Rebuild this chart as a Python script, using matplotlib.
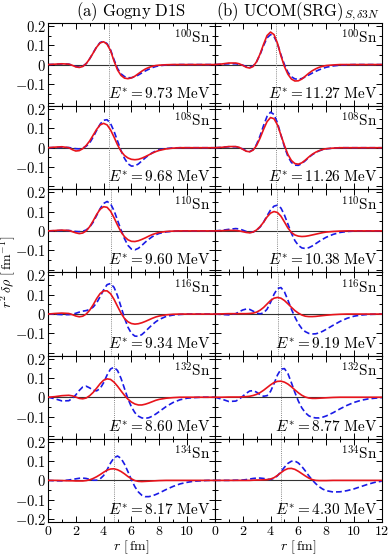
import matplotlib
matplotlib.use("Agg")
import matplotlib.pyplot as plt
from matplotlib.ticker import MultipleLocator

plt.rcParams['mathtext.fontset'] = 'cm'
plt.rcParams['font.family'] = ['DejaVu Serif']

# radial grid (fm)
r = [0, 0.5, 1.0, 1.5, 1.75, 2.0, 2.25, 2.5, 2.75, 3.0, 3.25, 3.5, 3.75, 4.0, 4.25, 4.5,
     4.75, 5.0, 5.25, 5.5, 5.75, 6.0, 6.25, 6.5, 6.75, 7.0, 7.25, 7.5, 7.75, 8.0,
     8.5, 9.0, 9.5, 10.0, 10.5, 11.0, 11.5, 12.0]

isotopes = ['100', '108', '110', '116', '132', '134']
estar_d1s = ['9.73', '9.68', '9.60', '9.34', '8.60', '8.17']
estar_ucom = ['11.27', '11.26', '10.38', '9.19', '8.77', '4.30']
radius_line = [4.39, 4.42, 4.50, 4.55, 4.75, 4.78]

# Gogny D1S: red (solid) and blue (dashed)
d1s_red_100 = [0, 0.002, 0.004, 0.002, -0.004, -0.012, -0.015, -0.010, 0.005, 0.030, 0.060, 0.090, 0.112, 0.118, 0.105, 0.072, 0.018, -0.028, -0.056, -0.070, -0.073, -0.069, -0.060, -0.047, -0.034, -0.023, -0.015, -0.009, -0.005, -0.003, -0.001, 0, 0, 0, 0, 0, 0, 0]
d1s_blue_100 = [0, 0.001, 0.003, 0.002, -0.003, -0.010, -0.013, -0.009, 0.005, 0.030, 0.061, 0.092, 0.114, 0.120, 0.108, 0.076, 0.025, -0.020, -0.048, -0.062, -0.068, -0.068, -0.063, -0.054, -0.043, -0.033, -0.024, -0.016, -0.010, -0.006, -0.002, -0.001, 0, 0, 0, 0, 0, 0]
d1s_red_108 = [0, 0.003, 0.005, 0.000, -0.010, -0.017, -0.015, -0.005, 0.012, 0.035, 0.065, 0.095, 0.118, 0.126, 0.118, 0.092, 0.055, 0.015, -0.018, -0.040, -0.053, -0.060, -0.062, -0.060, -0.054, -0.046, -0.037, -0.028, -0.020, -0.014, -0.006, -0.002, 0, 0, 0, 0, 0, 0]
d1s_blue_108 = [0, 0.001, 0.002, 0.001, -0.002, -0.005, -0.006, -0.002, 0.008, 0.025, 0.055, 0.090, 0.122, 0.142, 0.145, 0.125, 0.085, 0.035, -0.015, -0.055, -0.083, -0.095, -0.094, -0.084, -0.068, -0.052, -0.038, -0.026, -0.017, -0.010, -0.004, -0.001, 0, 0, 0, 0, 0, 0]
d1s_red_110 = [0, 0.002, 0.004, 0.002, -0.004, -0.010, -0.014, -0.011, 0.000, 0.022, 0.052, 0.085, 0.112, 0.125, 0.122, 0.102, 0.068, 0.030, -0.005, -0.030, -0.046, -0.054, -0.055, -0.051, -0.044, -0.036, -0.027, -0.019, -0.013, -0.008, -0.003, -0.001, 0, 0, 0, 0, 0, 0]
d1s_blue_110 = [0, 0.001, 0.002, 0.002, 0.000, -0.003, -0.004, -0.002, 0.005, 0.020, 0.045, 0.080, 0.115, 0.142, 0.152, 0.140, 0.105, 0.055, 0.005, -0.040, -0.075, -0.094, -0.098, -0.090, -0.075, -0.058, -0.043, -0.030, -0.020, -0.013, -0.005, -0.002, 0, 0, 0, 0, 0, 0]
d1s_red_116 = [0, 0.003, 0.005, 0.003, -0.003, -0.010, -0.014, -0.011, 0.000, 0.020, 0.048, 0.080, 0.106, 0.120, 0.120, 0.105, 0.076, 0.040, 0.005, -0.023, -0.040, -0.049, -0.052, -0.050, -0.045, -0.038, -0.030, -0.022, -0.015, -0.010, -0.004, -0.001, 0, 0, 0, 0, 0, 0]
d1s_blue_116 = [0, -0.001, -0.003, -0.003, -0.001, 0.004, 0.010, 0.015, 0.018, 0.024, 0.036, 0.058, 0.090, 0.125, 0.152, 0.158, 0.138, 0.095, 0.038, -0.020, -0.068, -0.100, -0.114, -0.115, -0.106, -0.090, -0.072, -0.055, -0.040, -0.028, -0.012, -0.005, -0.002, 0, 0, 0, 0, 0]
d1s_red_132 = [0, 0.003, 0.008, 0.010, 0.007, 0.001, -0.006, -0.008, -0.004, 0.008, 0.025, 0.047, 0.070, 0.088, 0.095, 0.092, 0.078, 0.057, 0.033, 0.010, -0.010, -0.025, -0.035, -0.040, -0.040, -0.036, -0.030, -0.023, -0.016, -0.011, -0.005, -0.002, 0, 0, 0, 0, 0, 0]
d1s_blue_132 = [0, -0.008, -0.019, -0.018, -0.006, 0.012, 0.035, 0.053, 0.057, 0.048, 0.036, 0.033, 0.045, 0.075, 0.115, 0.146, 0.155, 0.138, 0.098, 0.045, -0.008, -0.050, -0.080, -0.098, -0.107, -0.109, -0.106, -0.098, -0.087, -0.074, -0.048, -0.027, -0.013, -0.005, -0.002, 0, 0, 0]
d1s_red_134 = [0, 0.000, -0.001, -0.002, -0.002, -0.003, -0.003, -0.003, -0.001, 0.003, 0.010, 0.019, 0.030, 0.042, 0.053, 0.059, 0.060, 0.055, 0.046, 0.034, 0.020, 0.008, -0.001, -0.005, -0.006, -0.005, -0.004, -0.003, -0.002, -0.001, 0, 0, 0, 0, 0, 0, 0, 0]
d1s_blue_134 = [0, -0.002, -0.002, 0.002, 0.005, 0.008, 0.011, 0.012, 0.010, 0.005, 0.001, 0.001, 0.008, 0.025, 0.055, 0.090, 0.117, 0.126, 0.114, 0.084, 0.045, 0.003, -0.033, -0.060, -0.077, -0.084, -0.084, -0.080, -0.073, -0.065, -0.047, -0.031, -0.018, -0.010, -0.004, -0.002, 0, 0]

# UCOM(SRG): red (solid) and blue (dashed)
ucom_red_100 = [0, 0.003, 0.008, 0.008, 0.004, -0.004, -0.014, -0.018, -0.010, 0.015, 0.055, 0.105, 0.150, 0.168, 0.155, 0.110, 0.045, -0.010, -0.050, -0.075, -0.085, -0.084, -0.075, -0.060, -0.045, -0.032, -0.022, -0.014, -0.009, -0.005, -0.002, 0, 0, 0, 0, 0, 0, 0]
ucom_blue_100 = [0, 0.002, 0.004, 0.004, 0.001, -0.003, -0.010, -0.014, -0.008, 0.015, 0.052, 0.098, 0.138, 0.155, 0.145, 0.108, 0.050, 0.000, -0.040, -0.063, -0.074, -0.076, -0.072, -0.064, -0.054, -0.044, -0.035, -0.027, -0.020, -0.014, -0.007, -0.003, -0.001, 0, 0, 0, 0, 0]
ucom_red_108 = [0, 0.002, 0.006, 0.006, 0.002, -0.008, -0.018, -0.021, -0.012, 0.012, 0.050, 0.095, 0.135, 0.156, 0.150, 0.118, 0.065, 0.012, -0.035, -0.066, -0.082, -0.085, -0.078, -0.064, -0.048, -0.034, -0.023, -0.015, -0.009, -0.005, -0.002, 0, 0, 0, 0, 0, 0, 0]
ucom_blue_108 = [0, 0.002, 0.005, 0.005, 0.001, -0.006, -0.016, -0.020, -0.010, 0.018, 0.062, 0.115, 0.162, 0.184, 0.172, 0.128, 0.065, 0.005, -0.045, -0.076, -0.090, -0.091, -0.082, -0.067, -0.050, -0.036, -0.025, -0.016, -0.010, -0.006, -0.002, 0, 0, 0, 0, 0, 0, 0]
ucom_red_110 = [0, 0.001, 0.003, 0.002, 0.000, -0.004, -0.008, -0.010, -0.006, 0.005, 0.022, 0.045, 0.072, 0.092, 0.100, 0.095, 0.076, 0.046, 0.015, -0.008, -0.021, -0.027, -0.029, -0.028, -0.025, -0.021, -0.017, -0.013, -0.009, -0.006, -0.003, -0.001, 0, 0, 0, 0, 0, 0]
ucom_blue_110 = [0, 0.003, 0.008, 0.012, 0.010, 0.004, -0.003, -0.008, -0.006, 0.004, 0.020, 0.045, 0.078, 0.108, 0.128, 0.133, 0.118, 0.082, 0.035, -0.012, -0.050, -0.075, -0.088, -0.091, -0.087, -0.078, -0.066, -0.054, -0.043, -0.033, -0.018, -0.008, -0.003, -0.001, 0, 0, 0, 0]
ucom_red_116 = [0, 0.001, 0.002, 0.002, 0.002, 0.002, 0.002, 0.003, 0.005, 0.010, 0.020, 0.034, 0.052, 0.070, 0.082, 0.086, 0.082, 0.070, 0.053, 0.035, 0.018, 0.005, -0.005, -0.011, -0.013, -0.013, -0.012, -0.010, -0.008, -0.006, -0.003, -0.001, 0, 0, 0, 0, 0, 0]
ucom_blue_116 = [0, -0.002, -0.004, 0.002, 0.012, 0.021, 0.026, 0.024, 0.015, 0.005, 0.001, 0.006, 0.025, 0.060, 0.102, 0.132, 0.137, 0.115, 0.072, 0.025, -0.015, -0.050, -0.075, -0.091, -0.100, -0.103, -0.102, -0.097, -0.089, -0.079, -0.058, -0.038, -0.022, -0.011, -0.005, -0.002, -0.001, 0]
ucom_red_132 = [0, 0.000, 0.001, 0.001, 0.001, 0.002, 0.003, 0.005, 0.009, 0.015, 0.024, 0.036, 0.050, 0.064, 0.076, 0.082, 0.083, 0.078, 0.068, 0.054, 0.038, 0.023, 0.010, 0.001, -0.004, -0.006, -0.006, -0.005, -0.004, -0.003, -0.001, 0, 0, 0, 0, 0, 0, 0]
ucom_blue_132 = [0, -0.010, -0.022, -0.020, -0.010, 0.005, 0.020, 0.032, 0.034, 0.026, 0.013, 0.005, 0.008, 0.030, 0.070, 0.115, 0.145, 0.148, 0.122, 0.075, 0.025, -0.020, -0.055, -0.080, -0.096, -0.104, -0.107, -0.107, -0.103, -0.097, -0.080, -0.060, -0.042, -0.027, -0.016, -0.009, -0.005, -0.002]
ucom_red_134 = [0, 0, 0, 0, 0, 0, 0, 0, 0.001, 0.002, 0.002, 0.003, 0.004, 0.007, 0.014, 0.026, 0.040, 0.053, 0.061, 0.062, 0.057, 0.047, 0.035, 0.023, 0.012, 0.004, 0.000, -0.001, -0.001, -0.001, 0, 0, 0, 0, 0, 0, 0, 0]
ucom_blue_134 = [0, 0.000, 0.000, 0.001, 0.001, 0.002, 0.004, 0.007, 0.010, 0.012, 0.012, 0.010, 0.006, 0.005, 0.010, 0.024, 0.045, 0.068, 0.088, 0.099, 0.100, 0.090, 0.072, 0.049, 0.024, 0.002, -0.017, -0.033, -0.045, -0.053, -0.060, -0.059, -0.053, -0.044, -0.032, -0.020, -0.010, -0.004]

d1s_red = [d1s_red_100, d1s_red_108, d1s_red_110, d1s_red_116, d1s_red_132, d1s_red_134]
d1s_blue = [d1s_blue_100, d1s_blue_108, d1s_blue_110, d1s_blue_116, d1s_blue_132, d1s_blue_134]
ucom_red = [ucom_red_100, ucom_red_108, ucom_red_110, ucom_red_116, ucom_red_132, ucom_red_134]
ucom_blue = [ucom_blue_100, ucom_blue_108, ucom_blue_110, ucom_blue_116, ucom_blue_132, ucom_blue_134]

RED = '#e8141c'
BLUE = '#1a1ae6'

fig = plt.figure(figsize=(3.9, 5.55), dpi=100)
gs = fig.add_gridspec(6, 2, left=0.123, right=0.979, top=0.9586, bottom=0.0595,
                      hspace=0, wspace=0)

ytick_vals = [-0.2, -0.1, 0, 0.1, 0.2]
xtick_vals = [0, 2, 4, 6, 8, 10, 12]

for col in range(2):
    reds = d1s_red if col == 0 else ucom_red
    blues = d1s_blue if col == 0 else ucom_blue
    estars = estar_d1s if col == 0 else estar_ucom
    for row in range(6):
        ax = fig.add_subplot(gs[row, col])
        ax.axhline(0, color='#333333', lw=0.8, zorder=1)
        ax.axvline(radius_line[row], color='#888888', lw=0.7, ls=(0, (1, 1.2)), zorder=1)
        ax.plot(r, blues[row], color=BLUE, lw=1.2, ls=(0, (3.5, 1.8)), zorder=2)
        ax.plot(r, reds[row], color=RED, lw=1.2, zorder=3)
        ax.set_xlim(0, 12)
        ax.set_ylim(-0.215, 0.215)
        ax.xaxis.set_minor_locator(MultipleLocator(1))
        ax.yaxis.set_minor_locator(MultipleLocator(0.05))
        ax.set_xticks(xtick_vals)
        ax.set_yticks(ytick_vals)
        ax.tick_params(which='both', direction='in', top=True, right=True, width=0.7)
        ax.tick_params(which='major', length=4)
        ax.tick_params(which='minor', length=2)
        for s in ax.spines.values():
            s.set_linewidth(0.8)
        if col == 0:
            ylabs = ['' if (v == -0.2 and row != 5) else ('$0$' if v == 0 else '$%g$' % v)
                     for v in ytick_vals]
            ax.set_yticklabels(ylabs, fontsize=10.5)
        else:
            ax.set_yticklabels([])
        if row == 5:
            if col == 0:
                xl = ['$%d$' % v if v != 12 else '' for v in xtick_vals]
            else:
                xl = ['$%d$' % v for v in xtick_vals]
            ax.set_xticklabels(xl, fontsize=10)
            ax.set_xlabel(r'$r\ [\,\mathrm{fm}]$', fontsize=10, labelpad=0)
        else:
            ax.set_xticklabels([])
        ax.tick_params(axis='both', pad=1.5)
        ax.text(0.975, 0.93, r'$^{%s}\mathrm{Sn}$' % isotopes[row], transform=ax.transAxes,
                ha='right', va='top', fontsize=11)
        ax.text(0.975, 0.06, r'$E^{*}=%s\ \mathrm{MeV}$' % estars[row], transform=ax.transAxes,
                ha='right', va='bottom', fontsize=11)
        if row == 0:
            title = r'$\mathrm{(a)\ Gogny\ D1S}$' if col == 0 else r'$\mathrm{(b)\ UCOM(SRG)}_{S,\delta 3N}$'
            ax.set_title(title, fontsize=12, pad=3)

fig.text(0.021, 0.51, r'$r^2\,\delta\rho\ [\,\mathrm{fm}^{-1}]$', rotation=90,
         ha='center', va='center', fontsize=10)

fig.savefig('out.png', dpi=100)
